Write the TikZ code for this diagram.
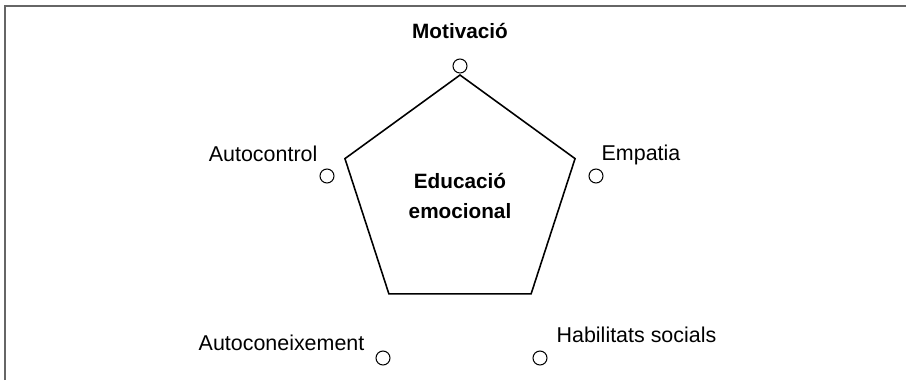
\documentclass[tikz,border=0pt]{standalone}
\usepackage{fontspec}
\setmainfont{Liberation Sans}
\usetikzlibrary{shapes.geometric, positioning}

\tikzset{
    dot/.style={draw, circle, inner sep=0pt, minimum size=0.28cm, line width=0.6pt},
    lbl/.style={inner sep=0pt, font=\fontsize{12.2}{15}\selectfont},
    head/.style={inner sep=0pt, align=center, font=\fontsize{11.8}{17}\selectfont\bfseries},
}

\begin{document}
\begin{tikzpicture}[x=0.02cm, y=-0.02cm]
    \useasboundingbox (0,0) rectangle (906,380);

    % frame
    \coordinate (fa) at (5,380);
    \coordinate (fb) at (5,6);
    \coordinate (fc) at (906,6);
    \draw[black!60, line width=1.1pt] (fa) -- (fb) -- (fc);

    \node[draw, regular polygon, regular polygon sides=5, minimum size=4.84cm,
          line width=0.9pt, head] (core) at (460,196) {Educació\\emocional};

    \node[dot] (mot) at (460,66) {};
    \node[dot] (emp) at (596,176) {};
    \node[dot] (actl) at (327,176) {};
    \node[dot] (acon) at (383,358) {};
    \node[dot] (hab) at (540,358) {};

    \node[head, above=0.38cm of mot] (mott) {Motivació};
    \node[lbl, above right=0.1cm and 0cm of emp] (empt) {Empatia};
    \node[lbl, above left=0.18cm and 0.08cm of actl] (actlt) {Autocontrol};
    \node[lbl, above left=0.04cm and 0.26cm of acon] (acont) {Autoconeixement};
    \node[lbl, above right=0.2cm and 0.22cm of hab] (habt) {Habilitats socials};
\end{tikzpicture}
\end{document}
